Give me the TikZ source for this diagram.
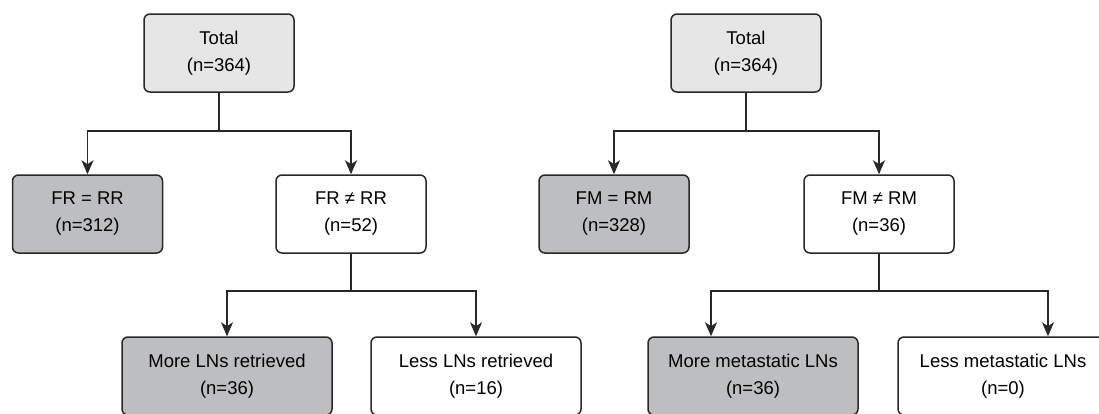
\documentclass[tikz,border=0pt]{standalone}
\usepackage{fontspec}
\setmainfont{Liberation Sans}
\usepackage{tikz}
\usetikzlibrary{arrows.meta}
\usetikzlibrary{positioning}

\definecolor{lightbox}{RGB}{230,230,231}
\definecolor{darkbox}{RGB}{189,190,192}
\definecolor{edgeline}{RGB}{40,40,40}

\begin{document}
\begin{tikzpicture}[x=1pt,y=-1pt,
box/.style={draw=edgeline,line width=1.5pt,rounded corners=6pt,minimum width=150pt,minimum height=78pt,inner sep=0pt,align=center,font=\fontsize{18.5}{27}\selectfont},
widebox/.style={box,minimum width=210pt},
arr/.style={draw=edgeline,line width=1.5pt,-{Stealth[length=14pt,width=12pt,inset=4pt]}},
ln/.style={draw=edgeline,line width=1.5pt}]

\useasboundingbox (0,0) rectangle (1099,413);

\node[box,fill=lightbox] (totL) at (219,53) {Total\\(n=364)};
\node[box,fill=darkbox] (eqL) at (87.5,214) {FR = RR\\(n=312)};
\node[box,fill=white] (neqL) at (351,214) {FR ≠ RR\\(n=52)};
\node[widebox,fill=darkbox] (moreL) at (227,376) {More LNs retrieved\\(n=36)};
\node[widebox,fill=white] (lessL) at (476,376) {Less LNs retrieved\\(n=16)};

\node[box,fill=lightbox] (totR) at (746,53) {Total\\(n=364)};
\node[box,fill=darkbox] (eqR) at (614,214) {FM = RM\\(n=328)};
\node[box,fill=white] (neqR) at (879,214) {FM ≠ RM\\(n=36)};
\node[widebox,fill=darkbox] (moreR) at (753,376) {More metastatic LNs\\(n=36)};
\node[widebox,fill=white] (lessR) at (1003,376) {Less metastatic LNs\\(n=0)};

\coordinate (jL1) at (219,131);
\coordinate (jL2) at (351,291);
\coordinate (jR1) at (746,131);
\coordinate (jR2) at (879,291);

\draw[ln] (totL) -- (jL1);
\draw[arr] (jL1) -| (eqL);
\draw[arr] (jL1) -| (neqL);
\draw[ln] (neqL) -- (jL2);
\draw[arr] (jL2) -| (moreL);
\draw[arr] (jL2) -| (lessL);

\draw[ln] (totR) -- (jR1);
\draw[arr] (jR1) -| (eqR);
\draw[arr] (jR1) -| (neqR);
\draw[ln] (neqR) -- (jR2);
\draw[arr] (jR2) -| ([xshift=-42pt]moreR.north);
\draw[arr] (jR2) -| ([xshift=45pt]lessR.north);

\end{tikzpicture}
\end{document}
